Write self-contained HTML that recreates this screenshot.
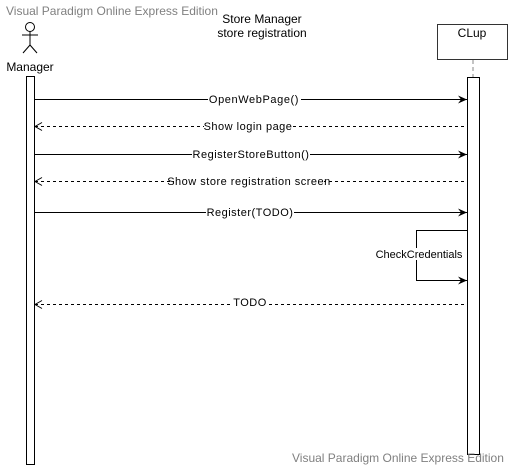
<!DOCTYPE html>
<html><head><meta charset="utf-8"><style>
html,body{margin:0;padding:0;background:#fff;width:509px;height:466px;overflow:hidden}
svg{display:block}
text{font-family:"Liberation Sans",Arial,sans-serif}
</style></head><body>
<svg width="509" height="466" viewBox="0 0 509 466" xmlns="http://www.w3.org/2000/svg">
<defs>
<marker id="fa" markerWidth="10" markerHeight="10" refX="9" refY="5" orient="auto" markerUnits="userSpaceOnUse"><path d="M0,1 L9,5 L0,9 L3,5 Z" fill="#000"/></marker>
<marker id="oa" markerWidth="10" markerHeight="10" refX="1" refY="5" orient="auto" markerUnits="userSpaceOnUse"><path d="M8,1 L1,5 L8,9" fill="none" stroke="#000" stroke-width="1"/></marker>
</defs>
<text x="6" y="15" font-size="12" fill="#808080">Visual Paradigm Online Express Edition</text>
<text x="262" y="23" font-size="12" text-anchor="middle">Store Manager</text>
<text x="262" y="37" font-size="12" text-anchor="middle">store registration</text>
<g stroke="#000" fill="none" stroke-width="1">
<circle cx="30" cy="27" r="4.5"/>
<line x1="30" y1="31.5" x2="30" y2="45"/>
<line x1="22" y1="35" x2="38" y2="35"/>
<line x1="30" y1="45" x2="23" y2="53"/>
<line x1="30" y1="45" x2="37" y2="53"/>
</g>
<text x="30" y="71" font-size="12" text-anchor="middle">Manager</text>
<rect x="26.5" y="76.5" width="8" height="388" fill="#fff" stroke="#000"/>
<rect x="437.5" y="24.5" width="70" height="35" fill="#fff" stroke="#333"/>
<text x="472" y="37" font-size="12" text-anchor="middle">CLup</text>
<line x1="473" y1="60" x2="473" y2="77" stroke="#888" stroke-dasharray="4,3"/>
<rect x="467.5" y="77.5" width="12" height="377" fill="#fff" stroke="#000"/>
<g font-size="11" text-anchor="middle" stroke-width="1">
<line x1="35" y1="99.5" x2="467" y2="99.5" stroke="#000" marker-end="url(#fa)"/>
<rect x="208" y="93" width="93" height="12" fill="#fff"/>
<text x="254" y="103" letter-spacing="0.6">OpenWebPage()</text>
<line x1="35" y1="126.5" x2="467" y2="126.5" stroke="#000" stroke-dasharray="3,3" marker-start="url(#oa)"/>
<rect x="204" y="120" width="88" height="12" fill="#fff"/>
<text x="248" y="130" letter-spacing="0.5">Show login page</text>
<line x1="35" y1="154.5" x2="467" y2="154.5" stroke="#000" marker-end="url(#fa)"/>
<rect x="192" y="148" width="118" height="12" fill="#fff"/>
<text x="251" y="158" letter-spacing="0.5">RegisterStoreButton()</text>
<line x1="35" y1="181.5" x2="467" y2="181.5" stroke="#000" stroke-dasharray="3,3" marker-start="url(#oa)"/>
<rect x="174" y="175" width="150" height="12" fill="#fff"/>
<text x="249" y="185" letter-spacing="0.5">Show store registration screen</text>
<line x1="35" y1="212.5" x2="467" y2="212.5" stroke="#000" marker-end="url(#fa)"/>
<rect x="206" y="206" width="88" height="12" fill="#fff"/>
<text x="250" y="216" letter-spacing="0.5">Register(TODO)</text>
<polyline points="467,230.5 416.5,230.5 416.5,280.5 467,280.5" fill="none" stroke="#000" marker-end="url(#fa)"/>
<rect x="376" y="248" width="86" height="12" fill="#fff"/>
<text x="419" y="258">CheckCredentials</text>
<line x1="35" y1="304.5" x2="467" y2="304.5" stroke="#000" stroke-dasharray="3,3" marker-start="url(#oa)"/>
<rect x="233" y="298" width="34" height="12" fill="#fff"/>
<text x="250" y="306" letter-spacing="0.5">TODO</text>
</g>
<text x="292" y="462" font-size="12" fill="#808080">Visual Paradigm Online Express Edition</text>
</svg>
</body></html>
